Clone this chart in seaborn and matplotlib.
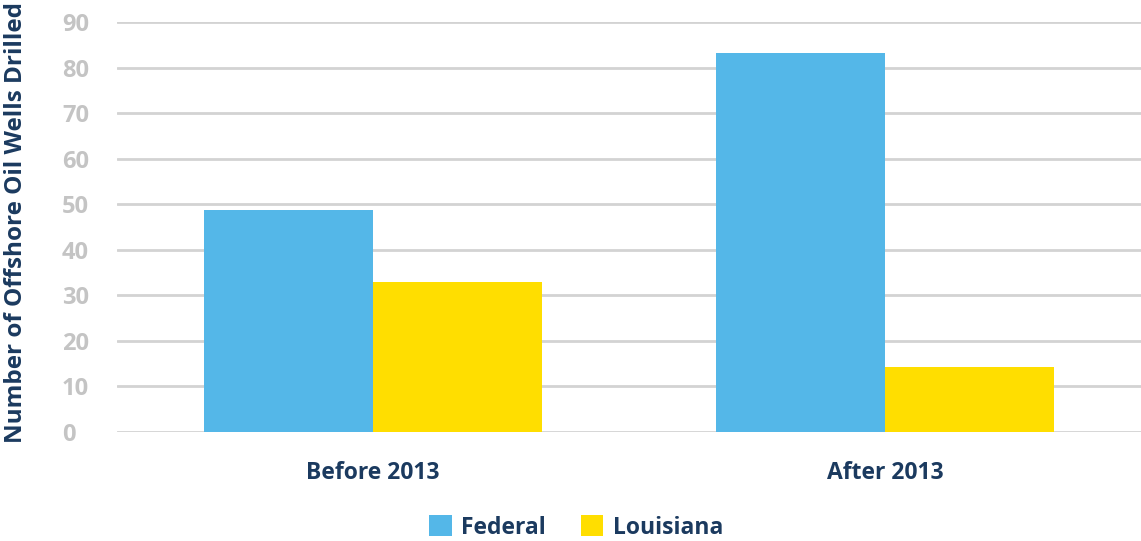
import pandas as pd
import seaborn as sns
import matplotlib.pyplot as plt

# Data
periods = ["Before 2013", "After 2013"]
federal = [48.7, 83.2]
louisiana = [32.9, 14.3]
series_names = ["Federal", "Louisiana"]
y_ticks = [0, 10, 20, 30, 40, 50, 60, 70, 80, 90]

df = pd.DataFrame({
    "period": periods * 2,
    "wells": federal + louisiana,
    "source": [series_names[0]] * 2 + [series_names[1]] * 2,
})

navy = "#1B3A5F"
grey_text = "#C4C4C4"
palette = {"Federal": "#54B7E8", "Louisiana": "#FFDE00"}

sns.set_style("white")
plt.rcParams["font.family"] = ["Open Sans", "DejaVu Sans"]

fig = plt.figure(figsize=(11.41, 5.41), dpi=100)
ax = fig.add_axes([0.1025, 0.2015, 0.8975, 0.7575])

sns.barplot(data=df, x="period", y="wells", hue="source", order=periods,
            hue_order=series_names, palette=palette, width=0.66,
            saturation=1, linewidth=0, ax=ax, zorder=3)

ax.set_ylim(0, 90)
ax.set_xlim(-0.5, 1.5)
ax.set_yticks(y_ticks)
ax.yaxis.grid(True, color="#D3D3D3", linewidth=2, zorder=0)
ax.set_axisbelow(True)
for s in ax.spines.values():
    s.set_visible(False)
ax.tick_params(axis="both", length=0)
ax.tick_params(axis="y", pad=39.5, labelsize=17, labelcolor=grey_text)
ax.tick_params(axis="x", pad=21, labelsize=16.5, labelcolor=navy)
for lbl in ax.get_yticklabels():
    lbl.set_fontweight("bold")
    lbl.set_horizontalalignment("left")
for lbl in ax.get_xticklabels():
    lbl.set_fontweight("bold")

ax.set_xlabel("")
ax.set_ylabel("Number of Offshore Oil Wells Drilled", fontsize=17.5,
              fontweight="bold", color=navy)
ax.yaxis.set_label_coords(-0.087, 0.51)

handles, labels = ax.get_legend_handles_labels()
ax.get_legend().remove()
fig.legend(handles, labels, loc="center", bbox_to_anchor=(0.505, 0.025),
           ncol=2, frameon=False, handlelength=1.0, handleheight=1.0,
           handletextpad=0.4, columnspacing=1.5,
           prop={"size": 16.5, "weight": "bold"}, labelcolor=navy)

fig.savefig("out.png", dpi=100)
